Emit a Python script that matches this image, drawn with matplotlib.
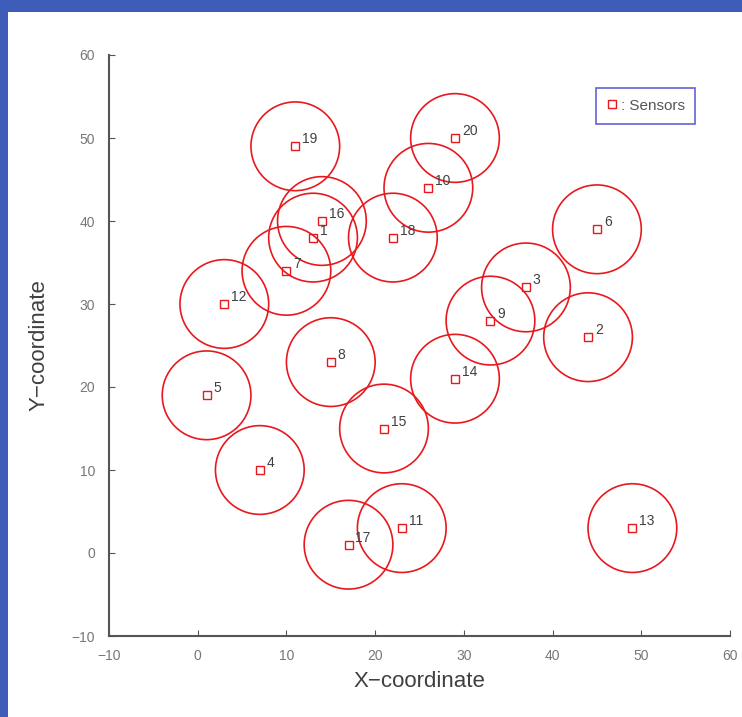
"""Sensor deployment map: sensor positions with their sensing ranges."""

import matplotlib
matplotlib.use("Agg")
import matplotlib.pyplot as plt
from matplotlib.patches import Ellipse, Rectangle

plt.rcParams["font.family"] = ["Liberation Sans", "DejaVu Sans"]

# sensor ids and coordinates
sensor_ids = [1, 2, 3, 4, 5, 6, 7, 8, 9, 10,
              11, 12, 13, 14, 15, 16, 17, 18, 19, 20]
sensor_x = [13, 44, 37, 7, 1, 45, 10, 15, 33, 26,
            23, 3, 49, 29, 21, 14, 17, 22, 11, 29]
sensor_y = [38, 26, 32, 10, 19, 39, 34, 23, 28, 44,
            3, 30, 3, 21, 15, 40, 1, 38, 49, 50]
sensing_radius = 5

ticks = [-10, 0, 10, 20, 30, 40, 50, 60]

fig = plt.figure(figsize=(7.42, 7.17), dpi=100)
fig.patch.set_facecolor("#3e5db8")

# white slide panel inside the blue frame
bg = fig.add_axes([0, 0, 1, 1], zorder=-1)
bg.axis("off")
bg.add_patch(Rectangle((8 / 742, 0), 1, 1 - 12 / 717,
                       transform=bg.transAxes, facecolor="white",
                       edgecolor="none"))

ax_w, ax_h = 621, 581
ax = fig.add_axes([109 / 742, 81 / 717, ax_w / 742, ax_h / 717])
ax.set_facecolor("none")
ax.set_xlim(-10, 60)
ax.set_ylim(-10, 60)

# ranges drawn round on screen (x and y units differ slightly in length)
stretch = ax_w / ax_h
for sx, sy in zip(sensor_x, sensor_y):
    ax.add_patch(Ellipse((sx, sy), 2 * sensing_radius,
                         2 * sensing_radius * stretch, fill=False,
                         edgecolor="#e8191e", lw=1.2))

ax.plot(sensor_x, sensor_y, ls="none", marker="s", ms=6, mfc="none",
        mec="#e8191e", mew=1.0, label=": Sensors")

for sid, sx, sy in zip(sensor_ids, sensor_x, sensor_y):
    ax.annotate(str(sid), (sx, sy), xytext=(5, 5), textcoords="offset points",
                ha="left", va="center", fontsize=10, color="#404040")

ax.set_xticks(ticks)
ax.set_yticks(ticks)
ax.tick_params(direction="in", length=4, labelsize=10, colors="#555555",
               labelcolor="#777777")
ax.tick_params(axis="x", pad=9)
ax.tick_params(axis="y", pad=10)
for side in ("top", "right"):
    ax.spines[side].set_visible(False)
for side in ("left", "bottom"):
    ax.spines[side].set_color("#555555")
    ax.spines[side].set_linewidth(1.5)

ax.set_xlabel("X\u2212coordinate", fontsize=16, color="#404040", labelpad=6)
ax.set_ylabel("Y\u2212coordinate", fontsize=16, color="#404040", labelpad=16)

leg = ax.legend(loc="upper right", bbox_to_anchor=(0.944, 0.943),
                borderaxespad=0, fancybox=False, handlelength=0.7,
                handletextpad=0.2, fontsize=11, borderpad=0.7)
leg.get_frame().set_edgecolor("#3a3ad0")
leg.get_frame().set_linewidth(1.2)
for t in leg.get_texts():
    t.set_color("#555555")

fig.savefig("out.png", dpi=100, facecolor=fig.get_facecolor())
